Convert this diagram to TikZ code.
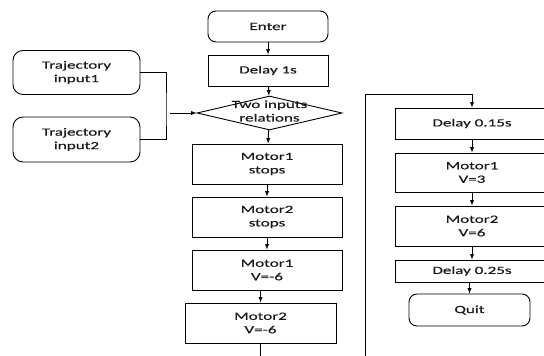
\documentclass[tikz,border=0pt]{standalone}
\usepackage{fontspec}
\setmainfont{Carlito}[FakeStretch=1.55, FakeBold=0.4]
\usetikzlibrary{
  shapes.geometric
  }

\begin{document}
\begin{tikzpicture}[x=1pt, y=-1pt, >=latex, line width=0.9pt]
  \tikzstyle{every node}=[font=\fontsize{11}{13.5}\selectfont, text=black!90, align=center, inner sep=0pt]
  \tikzstyle{stepbox}=[draw, rectangle, minimum width=150pt, minimum height=40pt]
  \tikzstyle{endbox}=[draw, rectangle, rounded corners=8pt, minimum width=120pt, minimum height=31pt]
  \tikzstyle{inbox}=[draw, rectangle, rounded corners=10pt, minimum width=127pt, minimum height=44pt]
  \tikzstyle{decide}=[draw, diamond, minimum width=145pt, minimum height=34pt]
  \useasboundingbox (0,0) rectangle (544,356);
  % left column
  \node[endbox] (enter) at (268,26.5) {Enter};
  \node[stepbox, minimum width=120pt, minimum height=31pt] (wait1) at (268,70.5) {Delay 1s};
  \node[decide] (rel) at (269.5,113) {};
  \node at (269.5,111) {Two inputs\\relations};
  \node[stepbox] (m1stop) at (267,164) {Motor1\\stops};
  \node[stepbox] (m2stop) at (267,217) {Motor2\\stops};
  \node[stepbox] (m1back) at (267,270) {Motor1\\V=-6};
  \node[stepbox, minimum width=151pt] (m2back) at (260.5,323) {Motor2\\V=-6};
  % inputs
  \node[inbox] (traj1) at (76.5,72.5) {Trajectory\\input1};
  \node[inbox, minimum height=45pt] (traj2) at (76.5,139.5) {Trajectory\\input2};
  % right column
  \node[stepbox, minimum width=154pt, minimum height=31pt] (wait2) at (472,123.5) {Delay 0.15s};
  \node[stepbox, minimum width=154pt, minimum height=39pt] (m1fwd) at (472,172.5) {Motor1\\V=3};
  \node[stepbox, minimum width=154pt] (m2fwd) at (472,226) {Motor2\\V=6};
  \node[stepbox, minimum width=154pt, minimum height=22pt] (wait3) at (472,271) {Delay 0.25s};
  \node[endbox, minimum width=121pt, minimum height=32pt] (quit) at (469.5,310) {Quit};
  %
  \coordinate (join) at (166,113);
  \coordinate (joinend) at (170,113);
  \coordinate (down1) at (260.5,360);
  \coordinate (loopin) at (365,360);
  \coordinate (looptop) at (365,94);
  %
  \draw (traj1.east) -| (join) |- (traj2.east);
  \draw[->] (joinend) -- (rel.west);
  \draw[->] (enter) -- (wait1);
  \draw[->] (wait1) -- (rel);
  \draw[->] (rel) -- (m1stop);
  \draw[->] (m1stop) -- (m2stop);
  \draw[->] (m2stop) -- (m1back);
  \draw[->] (m2back.north |- m1back.south) -- (m2back.north);
  \draw (m2back) -- (down1);
  \draw[->] (loopin) -- (looptop) -| (wait2.north);
  \draw[->] (wait2) -- (m1fwd);
  \draw[->] (m1fwd) -- (m2fwd);
  \draw[->] (m2fwd) -- (wait3);
  \draw[->] (wait3.south -| quit.north) -- (quit.north);
\end{tikzpicture}
\end{document}
